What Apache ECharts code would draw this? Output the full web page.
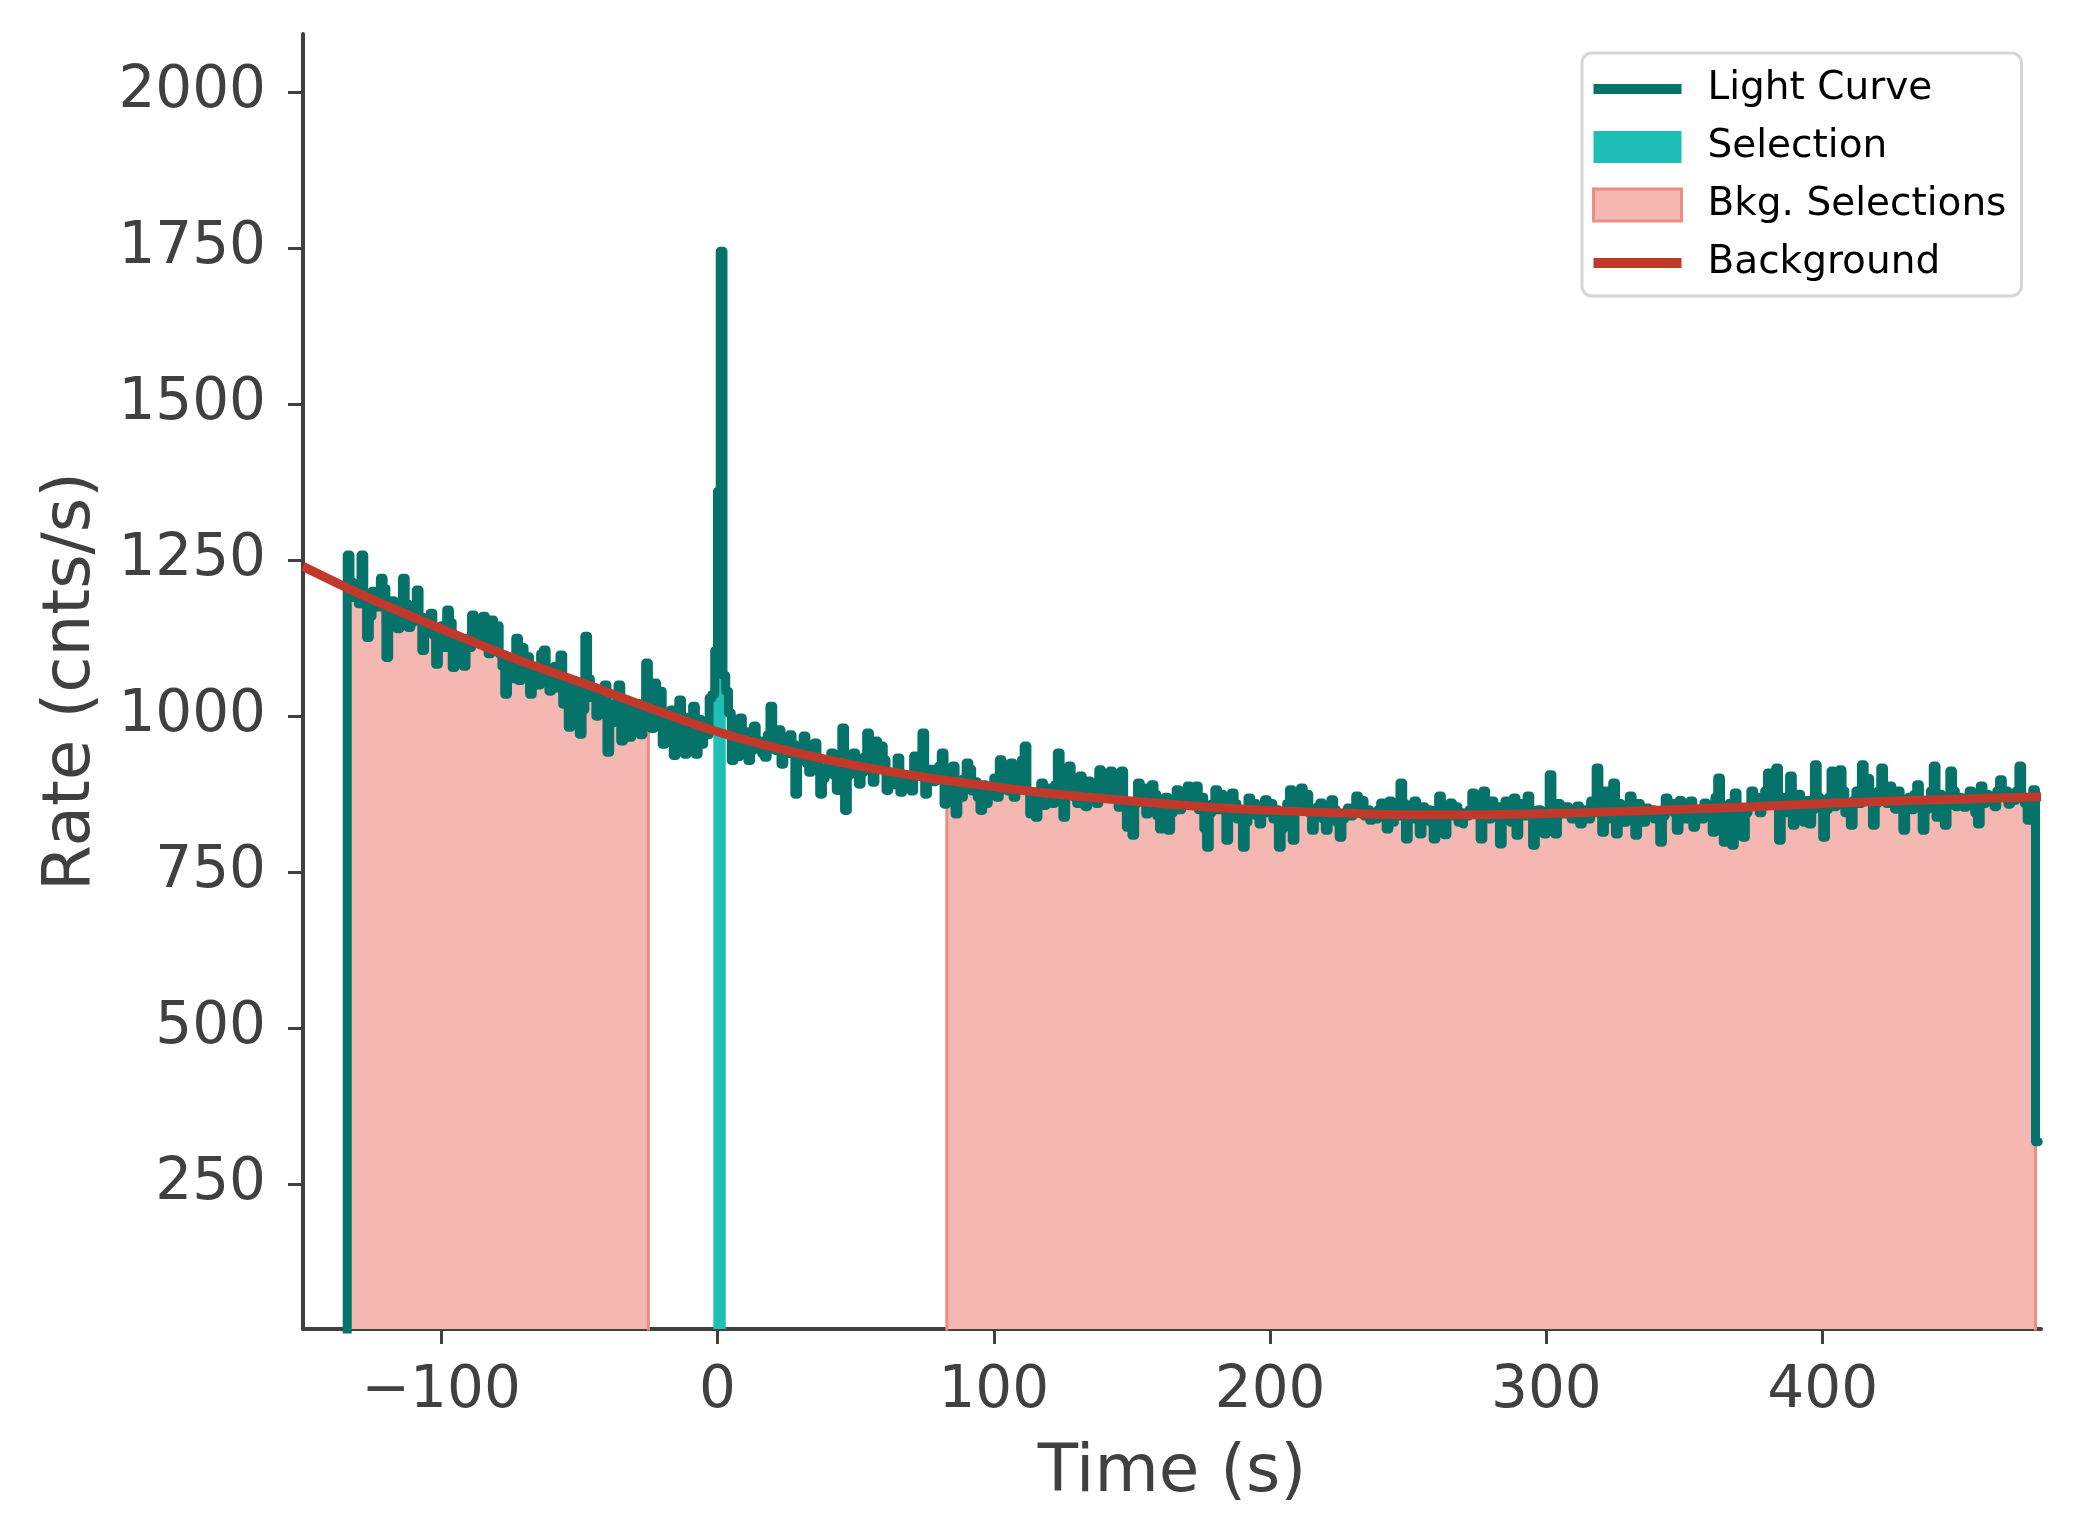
<!DOCTYPE html>
<html>
<head>
<meta charset="utf-8">
<title>Light curve</title>
<script src="https://cdn.jsdelivr.net/npm/echarts@6/dist/echarts.min.js"></script>
<style>
  html, body { margin: 0; padding: 0; background: #fff; }
  #chart { width: 2074px; height: 1540px; }
</style>
</head>
<body>
<div id="chart"></div>
<script>
// light curve, 1 s bins starting at t = -134 s (last bin is partial)
const binStart = -134
const lastEdge = 478
const rate = [
  1258,1215,1190,1205,1180,1258,1195,1126,1160,1200, 1190,1175,1221,1205,1094,1150,1185,1165,1140,1170,
  1221,1180,1142,1150,1175,1202,1160,1105,1140,1150, 1165,1130,1083,1120,1145,1110,1170,1150,1078,1125,
  1100,1115,1080,1125,1110,1162,1135,1150,1120,1160, 1130,1100,1154,1120,1145,1100,1080,1035,1070,1090,
  1060,1125,1057,1110,1080,1095,1035,1060,1075,1050, 1100,1106,1070,1040,1065,1080,1045,1098,1019,1060,
  982,1040,1020,1050,971,1010,1128,1060,1030,1045, 1000,1040,1015,1050,942,1020,990,1010,1050,960,
  1000,1025,966,1010,990,1020,970,1000,1085,1010, 980,1053,1000,1040,955,1000,985,1010,937,990,
  1026,1000,939,980,960,1016,939,995,955,985, 970,1029,1035,1105,1360,1745,1065,1040,1005,929,
  950,935,997,960,975,929,945,984,955,960, 940,934,970,1016,955,945,978,923,950,940,
  970,955,875,930,945,968,925,910,940,957, 920,875,900,915,930,941,905,881,920,981,
  849,905,915,941,930,891,910,935,973,940, 894,960,915,952,930,881,905,890,910,933,
  878,900,885,905,880,936,910,925,973,875, 900,915,895,905,920,941,859,895,880,920,
  843,885,870,900,925,915,880,895,870,849, 890,860,875,885,901,870,930,895,920,880,
  925,870,890,900,930,952,880,843,870,838, 880,893,857,885,870,860,890,941,880,838,
  875,920,895,870,860,904,885,855,896,870, 880,860,914,890,905,870,912,880,905,854,
  912,860,822,850,809,860,893,870,885,843, 865,890,875,840,819,855,870,817,845,860,
  882,850,875,860,888,865,880,888,850,870, 820,790,845,860,882,850,875,865,801,840,
  877,860,835,850,790,830,869,850,860,840, 827,850,866,845,860,835,850,790,820,840,
  860,882,801,850,870,885,860,875,845,817, 840,855,861,835,817,845,866,850,830,806,
  835,845,853,840,850,872,855,865,840,850, 833,845,835,850,861,845,819,864,830,850,
  840,893,860,803,845,835,864,850,811,855, 840,850,830,803,850,872,835,810,845,861,
  840,855,830,827,845,840,850,877,845,860, 803,880,850,835,864,845,855,795,850,864,
  840,830,869,809,850,860,840,872,850,793, 840,850,835,811,845,906,840,811,860,850,
  843,855,845,835,850,856,827,840,850,835, 864,845,917,850,814,880,845,835,893,811,
  860,845,830,850,872,845,809,860,840,830, 853,840,850,835,845,798,840,869,855,860,
  845,817,865,840,835,850,864,822,845,850, 835,861,850,845,814,870,901,855,798,845,
  860,793,877,850,840,806,845,855,880,860, 870,845,860,880,909,875,860,917,801,850,
  870,845,904,825,860,875,840,830,865,827, 850,922,870,855,806,850,870,912,855,870,
  914,880,845,860,825,865,880,860,922,885, 900,870,825,860,880,917,875,860,888,870,
  851,880,865,817,855,870,850,875,890,860, 817,850,865,880,920,838,875,860,825,860,
  912,880,855,870,860,854,870,880,860,845, 827,888,860,875,865,870,855,880,898,870,
  880,859,875,865,880,920,870,860,833,870,882,
  318
]

// fitted background model
const bgTimes = [-150, -125, -100, -75, -50, -25, 0, 25, 50, 75, 100, 125, 150, 175, 200, 225, 250, 275, 300, 325, 350, 375, 400, 425, 450, 479]
const bgRates = [1240, 1187, 1140, 1095, 1055, 1014, 975, 945, 921, 902, 887, 874, 864, 855, 849, 845, 842, 842, 844, 847, 851, 855, 860, 864, 867, 871]

// source and background intervals (s)
const selection = [-1.5, 3]
const bkgSelections = [[-134, -25], [83, 477]]

const xTicks = [-100, 0, 100, 200, 300, 400]
const yTicks = [250, 500, 750, 1000, 1250, 1500, 1750, 2000]

const teal = '#06736a'
const cyan = '#1fbfb6'
const red = '#c0392b'
const pink = '#f5b7b1'
const pinkEdge = '#f08c82'
const ink = '#404040'
const font = 'DejaVu Sans'

// step data of the whole light curve
const lcData = [[-150, 0]]
rate.forEach((v, i) => lcData.push([binStart + i, v]))
lcData.push([lastEdge, rate[rate.length - 1]])

// step polygon under the light curve between a and b
function segment(a, b) {
  const pts = [[a, 0]]
  let t = a
  while (t < b) {
    pts.push([t, rate[Math.floor(t) - binStart]])
    t = Math.floor(t) + 1
  }
  pts.push([b, 0])
  return pts
}

const lineIcon = 'path://M0,0M0,11h88v10h-88zM88,32'
const minus = v => (v < 0 ? '\u2212' + Math.abs(v) : String(v))

const chart = echarts.init(document.getElementById('chart'))
chart.setOption({
  animation: false,
  backgroundColor: '#fff',
  grid: { left: 303, top: 34, right: 33, bottom: 211 },
  legend: {
    orient: 'vertical',
    left: 1582,
    top: 53,
    padding: [16, 15, 13, 10],
    itemWidth: 88,
    itemHeight: 32,
    itemGap: 18,
    backgroundColor: '#fff',
    borderColor: '#d6d6d6',
    borderWidth: 3,
    borderRadius: 10,
    textStyle: { fontFamily: font, fontSize: 39, color: '#000', lineHeight: 40, padding: [0, 0, 0, 21] },
    data: [
      { name: 'Light Curve', icon: lineIcon, itemStyle: { color: teal, borderWidth: 0 } },
      { name: 'Selection', icon: 'rect', itemStyle: { color: cyan, borderWidth: 0 } },
      { name: 'Bkg. Selections', icon: 'rect', itemStyle: { color: pink, borderColor: pinkEdge, borderWidth: 3 } },
      { name: 'Background', icon: lineIcon, itemStyle: { color: red, borderWidth: 0 } }
    ]
  },
  xAxis: {
    type: 'value',
    min: -150,
    max: 479,
    name: 'Time (s)',
    nameLocation: 'middle',
    nameGap: 112,
    nameTextStyle: { fontFamily: font, fontSize: 66, color: ink },
    axisLine: { show: true, onZero: false, lineStyle: { color: ink, width: 4 } },
    axisTick: { show: true, length: 15, customValues: xTicks, lineStyle: { color: ink, width: 3 } },
    axisLabel: { customValues: xTicks, fontFamily: font, fontSize: 58, color: ink, margin: 34, formatter: minus },
    splitLine: { show: false }
  },
  yAxis: {
    type: 'value',
    min: 18,
    max: 2093,
    name: 'Rate (cnts/s)',
    nameLocation: 'middle',
    nameRotate: 90,
    nameGap: 198,
    nameTextStyle: { fontFamily: font, fontSize: 66, color: ink },
    axisLine: { show: true, onZero: false, lineStyle: { color: ink, width: 4 } },
    axisTick: { show: true, length: 15, customValues: yTicks, lineStyle: { color: ink, width: 3 } },
    axisLabel: { customValues: yTicks, fontFamily: font, fontSize: 58, color: ink, margin: 37, formatter: v => String(v) },
    splitLine: { show: false }
  },
  series: [
    ...bkgSelections.map(s => ({
      name: 'Bkg. Selections',
      type: 'line',
      step: 'end',
      symbol: 'none',
      silent: true,
      data: segment(s[0], s[1]),
      itemStyle: { color: pink },
      lineStyle: { color: pinkEdge, width: 3 },
      areaStyle: { color: pink, opacity: 1, origin: 'start' },
      z: 1
    })),
    {
      name: 'Selection',
      type: 'line',
      step: 'end',
      symbol: 'none',
      silent: true,
      data: segment(selection[0], selection[1]),
      itemStyle: { color: cyan },
      lineStyle: { width: 0, opacity: 0 },
      areaStyle: { color: cyan, opacity: 1, origin: 'start' },
      z: 2
    },
    {
      name: 'Light Curve',
      type: 'line',
      step: 'end',
      symbol: 'none',
      silent: true,
      data: lcData,
      itemStyle: { color: teal },
      lineStyle: { color: teal, width: 9, cap: 'round', join: 'round' },
      z: 3
    },
    {
      name: 'Background',
      type: 'line',
      smooth: 0.4,
      symbol: 'none',
      silent: true,
      data: bgTimes.map((t, i) => [t, bgRates[i]]),
      itemStyle: { color: red },
      lineStyle: { color: red, width: 9 },
      z: 4
    }
  ]
})
</script>
</body>
</html>
